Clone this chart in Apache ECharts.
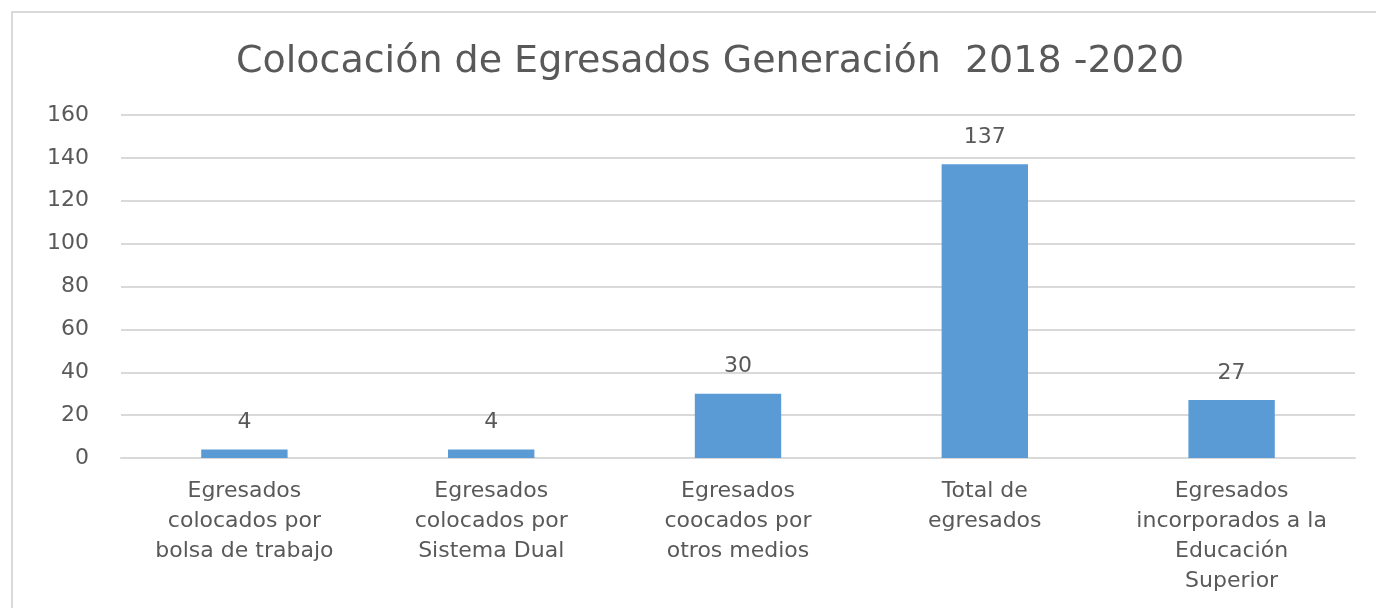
<!DOCTYPE html>
<html>
<head>
<meta charset="utf-8">
<script src="https://cdn.jsdelivr.net/npm/echarts@6/dist/echarts.min.js"></script>
<style>
  html, body { margin: 0; padding: 0; background: #fff; }
  #chart { width: 1376px; height: 608px; }
</style>
</head>
<body>
<div id="chart"></div>
<script>
var titleText = 'Colocación de Egresados Generación  2018 -2020'
var categories = [
  'Egresados\ncolocados por\nbolsa de trabajo',
  'Egresados\ncolocados por\nSistema Dual',
  'Egresados\ncoocados por\notros medios',
  'Total de\negresados',
  'Egresados\nincorporados a la\nEducación\nSuperior'
]
var values = [4, 4, 30, 137, 27]

var myChart = echarts.init(document.getElementById('chart'))
var font = '"DejaVu Sans", Verdana, sans-serif'

var option = {
  animation: false,
  textStyle: { fontFamily: font },
  graphic: [{
    type: 'rect',
    shape: { x: 12, y: 12, width: 1400, height: 700 },
    style: { fill: 'none', stroke: '#d9d9d9', lineWidth: 2 },
    silent: true
  }],
  title: {
    text: titleText,
    left: 705,
    textAlign: 'center',
    top: 38,
    textStyle: { fontFamily: font, fontSize: 38, fontWeight: 'normal', color: '#595959' }
  },
  grid: { left: 121, right: 21, top: 115, bottom: 150 },
  xAxis: {
    type: 'category',
    data: categories,
    axisLine: { lineStyle: { color: '#d9d9d9', width: 2 } },
    axisTick: { show: false },
    axisLabel: {
      color: '#595959',
      fontSize: 22,
      lineHeight: 30,
      margin: 18,
      interval: 0
    }
  },
  yAxis: {
    type: 'value',
    min: 0,
    max: 160,
    interval: 20,
    axisLine: { show: false },
    axisTick: { show: false },
    axisLabel: { color: '#595959', fontSize: 22, margin: 32 },
    splitLine: { lineStyle: { color: '#d9d9d9', width: 2 } }
  },
  series: [{
    type: 'bar',
    data: values,
    barWidth: '35%',
    itemStyle: { color: '#5b9bd5' },
    label: {
      show: true,
      position: 'top',
      distance: 16,
      color: '#595959',
      fontSize: 22
    }
  }]
}

myChart.setOption(option)
</script>
</body>
</html>
